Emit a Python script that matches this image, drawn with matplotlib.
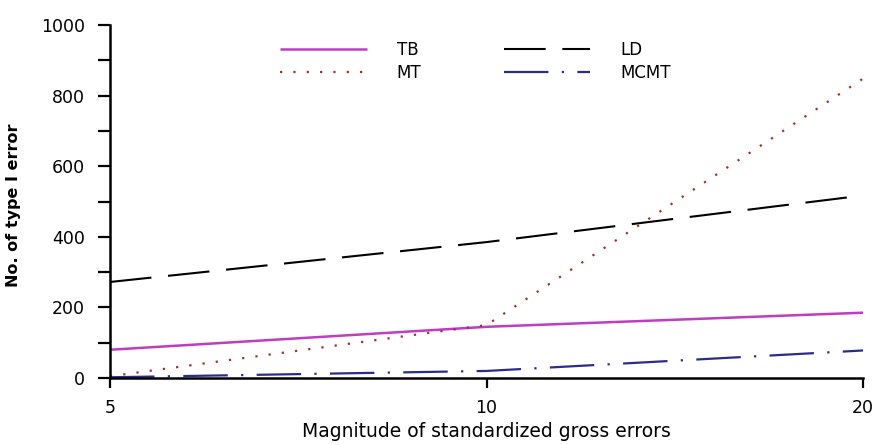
import matplotlib
matplotlib.use("Agg")
import matplotlib.pyplot as plt
from matplotlib.ticker import FixedLocator, NullFormatter, FixedFormatter, NullLocator

plt.rcParams['font.family'] = ['DejaVu Sans']

# Magnitude of standardized gross errors
magnitude = [5, 10, 20]
x_tick_labels = ["5", "10", "20"]

# Number of type I errors per method
tb = [80, 145, 185]
mt = [5, 150, 848]
ld = [272, 385, 517]
mcmt = [2, 20, 78]

y_major = [0, 200, 400, 600, 800, 1000]
y_minor = [100, 300, 500, 700, 900]

W, H = 877, 445
fig = plt.figure(figsize=(W / 100, H / 100), dpi=100)
ax = fig.add_axes([110 / W, 1 - 378 / H, (863 - 110) / W, (378 - 25) / H])

ax.plot(magnitude, tb, color='#c03cc0', lw=1.8, solid_capstyle='butt', label='TB')
ax.plot(magnitude, mt, color='#a03030', lw=1.6, linestyle=(0, (1, 5)), label='MT')
ax.plot(magnitude, ld, color='black', lw=1.5, linestyle=(0, (20, 8)), label='LD')
ax.plot(magnitude, mcmt, color='#2b2b8f', lw=1.6, linestyle=(0, (20, 6, 1, 6)), label='MCMT')

ax.set_xscale('log')
ax.set_xlim(5, 20)
ax.xaxis.set_major_locator(FixedLocator(magnitude))
ax.xaxis.set_major_formatter(FixedFormatter(x_tick_labels))
ax.xaxis.set_minor_locator(NullLocator())
ax.xaxis.set_minor_formatter(NullFormatter())

ax.set_ylim(0, 1000)
ax.yaxis.set_major_locator(FixedLocator(y_major))
ax.yaxis.set_minor_locator(FixedLocator(y_minor))

for s in ('top', 'right'):
    ax.spines[s].set_visible(False)
for s in ('left', 'bottom'):
    ax.spines[s].set_linewidth(1.8)

ax.tick_params(axis='y', which='both', direction='out', length=9, width=1.6,
               pad=9, labelsize=12.5)
ax.tick_params(axis='x', which='major', direction='out', length=7, width=1.6,
               pad=8, labelsize=12.5)

ax.set_xlabel('Magnitude of standardized gross errors', fontsize=13.5)
ax.xaxis.set_label_coords(0.5, -0.125)
ax.set_ylabel('No. of type I error', fontsize=11.5, fontweight='bold')
ax.yaxis.set_label_coords(-0.118, 0.49)

fig.legend(loc='upper left', bbox_to_anchor=(280 / W, 1 - 41 / H), ncol=2,
           frameon=False, fontsize=12, handlelength=5.2, handletextpad=1.8,
           columnspacing=4.95, borderpad=0, borderaxespad=0, labelspacing=0.3)

fig.savefig('out.png', dpi=100)
